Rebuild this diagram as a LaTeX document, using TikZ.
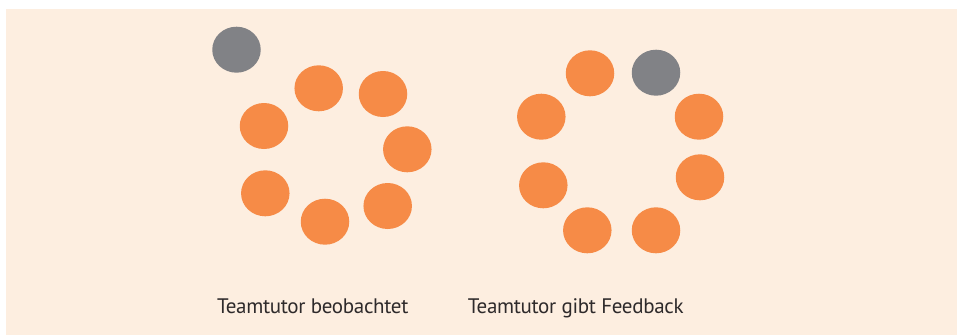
\documentclass[tikz,border=0pt]{standalone}
\usepackage{fontspec}
\setmainfont[LetterSpace=-1.5]{PT Sans}
\usetikzlibrary{shapes.geometric}
\definecolor{peach}{HTML}{FDEEE0}
\definecolor{student}{HTML}{F68B47}
\definecolor{tutor}{HTML}{818286}
\definecolor{caption}{HTML}{2E2A2B}
\tikzset{
    member/.style={ellipse, fill=student, draw=none, minimum width=48.5pt, minimum height=46pt, inner sep=0pt},
    teamtutor/.style={member, fill=tutor},
    label/.style={anchor=base, text=caption, inner sep=0pt, font=\fontsize{21}{21}\selectfont}
}
\begin{document}
\begin{tikzpicture}[x=1pt, y=-1pt]
            \useasboundingbox (0, 0) rectangle (957, 335);
            \fill[peach] (6, 9) rectangle (957, 335);

            % left group: tutor stands outside
            \node[teamtutor] (tl) at (236.5, 49.7) {};
            \foreach \x/\y [count=\i] in {318.7/88.3, 383/94, 407.3/149.3, 387.7/206, 325/221.7, 265.3/193.3, 264/126}
                \node[member] (l\i) at (\x, \y) {};
            \node[label] (cl) at (312.8, 313.3) {Teamtutor beobachtet};

            % right group: tutor joins the circle
            \node[teamtutor] (tr) at (656, 72.7) {};
            \foreach \x/\y [count=\i] in {699/116.7, 700/177.3, 656/230.3, 587.3/230.3, 543.3/185.3, 541.3/116.7, 590/73.3}
                \node[member] (r\i) at (\x, \y) {};
            \node[label] (cr) at (575.8, 313.3) {Teamtutor gibt Feedback};
        \end{tikzpicture}
\end{document}
